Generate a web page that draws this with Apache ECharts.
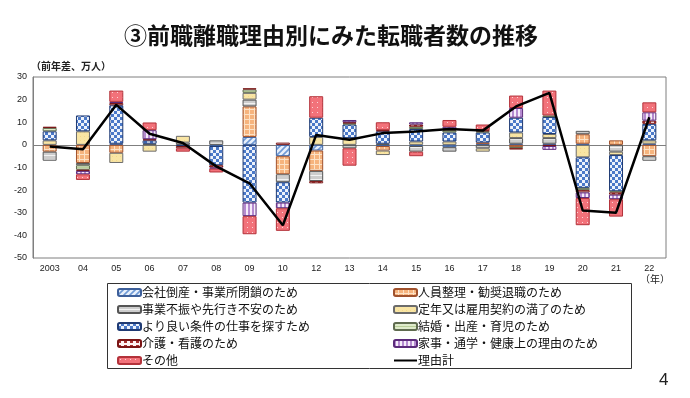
<!DOCTYPE html>
<html><head><meta charset="utf-8">
<script src="https://cdn.jsdelivr.net/npm/echarts@6/dist/echarts.min.js"></script>
<style>html,body{margin:0;padding:0;background:#fff;}#c{width:690px;height:398px;}</style>
</head><body><div id="c"></div>
<script>
const categories = ['2003','04','05','06','07','08','09','10','12','13','14','15','16','17','18','19','20','21','22'];
const seriesNames = ['会社倒産・事業所閉鎖のため','人員整理・勧奨退職のため','事業不振や先行き不安のため','定年又は雇用契約の満了のため','より良い条件の仕事を探すため','結婚・出産・育児のため','介護・看護のため','家事・通学・健康上の理由のため','その他'];
const lineName = '理由計';
const bankruptcy  = [0, 0, 0.5, 0, 0, -0.5, 3.5, -5, -2.5, 0, -0.5, -0.5, -1, 0.5, 0.5, 0.5, 0.5, 0, 0.5];
const restructure = [-3, -8, -3.5, 0, 0, 0, 13.5, -8, -9, 0, -2, 0, 0, 0.5, -1, 0, 4.2, 2, -5];
const slump       = [-4, -1, 0, 0.5, 1, 2, 3, -3.5, -4.5, -1.5, 0.5, -2.5, -2, -1.5, 2.5, 2.5, 1.5, -3, -2];
const retirement  = [2, 6, -4.5, -3, 3, 0, 3, 0, 3.5, 3, -2, 1.5, 1.5, -1.5, 2.5, 1.8, -5.5, -1.5, 1.5];
const betterJob   = [4, 7, 17, 1.5, -0.5, -8.5, -25.5, -9, 8.5, 6, 5.5, 5.5, 4, 4.5, 6.5, 7.5, -13.5, -16, 7.3];
const marriage    = [1.5, -2, 0, 0, 0, 0, 1.5, 0, 0, 0.5, 0, 1, 1, 0.5, -0.5, 0.7, -1, -0.5, 0];
const nursing     = [0.5, -0.5, 1, 0.5, -1, -1, 0.5, 1, -1, 0.5, 0.5, 1, 0.5, 0.5, -0.5, -0.5, -1, -1, 1.4];
const housework   = [0, -1.5, 0.5, 4, 0, -0.5, -6, -2.5, 0, 1, 0, 1, 1, 0, 4.3, -1.7, -2.5, -2, 3.7];
const other       = [0, -2.5, 5, 3.4, -1.5, -1.7, -8, -10, 9.5, -7.7, 3.5, -2, 3, 2.5, 5.5, 11, -12, -7.7, 4.4];
const total       = [-0.7, -1.9, 17.7, 4.9, 0.8, -9.5, -17, -35.5, 4.4, 2.3, 5.2, 5.9, 7, 6.3, 17, 23, -29, -30, 12.2];
const yTicks = [-50, -40, -30, -20, -10, 0, 10, 20, 30];

function pat(w, h, draw) {
  const c = document.createElement('canvas');
  c.width = w; c.height = h;
  const g = c.getContext('2d');
  draw(g, w, h);
  return { image: c, repeat: 'repeat' };
}
const fills = [
  pat(6, 6, (g) => { g.fillStyle = '#e8f0fb'; g.fillRect(0,0,6,6); g.strokeStyle = '#6f9ad6'; g.lineWidth = 1.6;
    g.beginPath(); g.moveTo(-1,7); g.lineTo(7,-1); g.moveTo(-4,4); g.lineTo(4,-4); g.moveTo(2,10); g.lineTo(10,2); g.stroke(); }),
  pat(5, 5, (g) => { g.fillStyle = '#f6b47e'; g.fillRect(0,0,5,5); g.fillStyle = '#fde2c6'; g.fillRect(4,0,1,5); g.fillRect(0,4,5,1); }),
  pat(4, 4, (g) => { g.fillStyle = '#cdcdcd'; g.fillRect(0,0,4,4); g.fillStyle = '#f2f2f2'; g.fillRect(0,3,4,1); }),
  pat(4, 4, (g) => { g.fillStyle = '#f9e5a4'; g.fillRect(0,0,4,4); g.fillStyle = '#f4d98a'; g.fillRect(0,0,1,1); }),
  pat(6, 6, (g) => { g.fillStyle = '#4b79c8'; g.fillRect(0,0,6,6); g.fillStyle = '#eef3fb'; g.fillRect(0,0,3,3); g.fillRect(3,3,3,3); }),
  pat(4, 4, (g) => { g.fillStyle = '#dfebcb'; g.fillRect(0,0,4,4); g.fillStyle = '#b9cf98'; g.fillRect(0,3,4,1); }),
  pat(6, 4, (g) => { g.fillStyle = '#fdf3f3'; g.fillRect(0,0,6,4); g.fillStyle = '#a83232'; g.fillRect(0,1,3,2); }),
  pat(4, 4, (g) => { g.fillStyle = '#f5ecf9'; g.fillRect(0,0,4,4); g.fillStyle = '#b58ad0'; g.fillRect(0,0,2,4); }),
  pat(5, 5, (g) => { g.fillStyle = '#f2727a'; g.fillRect(0,0,5,5); g.fillStyle = '#fbd4d6'; g.fillRect(2,2,1,1); })
];
const borders = ['#3d5f9a','#a0522d','#555555','#6b6b6b','#1f3a73','#5f6b4f','#7a1515','#5b2a7a','#b3323a'];
const values = [bankruptcy, restructure, slump, retirement, betterJob, marriage, nursing, housework, other];

const barSeries = seriesNames.map((name, i) => ({
  name, type: 'bar', stack: 'reasons', barWidth: 14,
  data: values[i].map(v => v === 0 ? '-' : v),
  itemStyle: { color: fills[i], borderColor: borders[i], borderWidth: 1 },
  emphasis: { disabled: true },
  z: 2
}));

const chart = echarts.init(document.getElementById('c'), null, { renderer: 'canvas' });
chart.setOption({
  animation: false,
  backgroundColor: '#ffffff',
  textStyle: { fontFamily: '"Noto Sans CJK JP", sans-serif' },
  title: [
    { text: '③前職離職理由別にみた転職者数の推移', left: 119, top: 19,
      textStyle: { fontSize: 23, fontWeight: 'bold', color: '#111', fontFamily: '"Noto Sans CJK JP"' } },
    { text: '（前年差、万人）', left: 26, top: 56,
      textStyle: { fontSize: 10, fontWeight: 'bold', color: '#222', fontFamily: '"Noto Sans CJK JP"' } }
  ],
  grid: { left: 33, right: 24, top: 77, bottom: 140, show: true, borderColor: '#7f7f7f', borderWidth: 1 },
  xAxis: {
    type: 'category', data: categories, position: 'bottom',
    axisLine: { show: false }, axisTick: { show: false },
    axisLabel: { fontSize: 9, color: '#222', margin: 6, fontFamily: '"Liberation Sans", sans-serif' }
  },
  yAxis: {
    type: 'value', min: yTicks[0], max: yTicks[yTicks.length - 1], interval: 10,
    splitLine: { show: false },
    axisLine: { show: true, lineStyle: { color: '#7f7f7f' } },
    axisTick: { show: false },
    axisLabel: { fontSize: 9, color: '#222', margin: 6, fontFamily: '"Liberation Sans", sans-serif' }
  },
  legend: [
    { orient: 'vertical', left: 117, top: 286, padding: 0, itemGap: 4, itemWidth: 23, itemHeight: 7,
      data: [seriesNames[0], seriesNames[2], seriesNames[4], seriesNames[6], seriesNames[8]],
      textStyle: { fontSize: 12, lineHeight: 13, color: '#111', padding: [0,0,0,-4] }, selectedMode: false },
    { orient: 'vertical', left: 393, top: 286, padding: 0, itemGap: 4, itemWidth: 23, itemHeight: 7,
      data: [seriesNames[1], seriesNames[3], seriesNames[5], seriesNames[7],
             { name: lineName, icon: 'path://M0,0H23V2H0Z' }],
      textStyle: { fontSize: 12, lineHeight: 13, color: '#111', padding: [0,0,0,-4] }, selectedMode: false }
  ],
  graphic: [
    { type: 'rect', shape: { x: 107.5, y: 283.5, width: 524, height: 85 }, style: { fill: 'none', stroke: '#333', lineWidth: 1 }, silent: true },
    { type: 'text', left: 640, top: 274, style: { text: '（年）', fontSize: 10, fill: '#222', fontFamily: '"Noto Sans CJK JP"' } },
    { type: 'text', left: 659, top: 372, style: { text: '4', fontSize: 17, fill: '#222', fontFamily: '"Liberation Sans"' } }
  ],
  series: [
    ...barSeries,
    { name: lineName, type: 'line', data: total, showSymbol: false, symbol: 'none',
      lineStyle: { color: '#000', width: 2.5 }, itemStyle: { color: '#000' }, z: 5,
      markLine: { silent: true, symbol: 'none', label: { show: false },
        lineStyle: { color: '#7f7f7f', width: 1, type: 'solid' }, data: [{ yAxis: 0 }], z: 1 } }
  ]
});
</script></body></html>
